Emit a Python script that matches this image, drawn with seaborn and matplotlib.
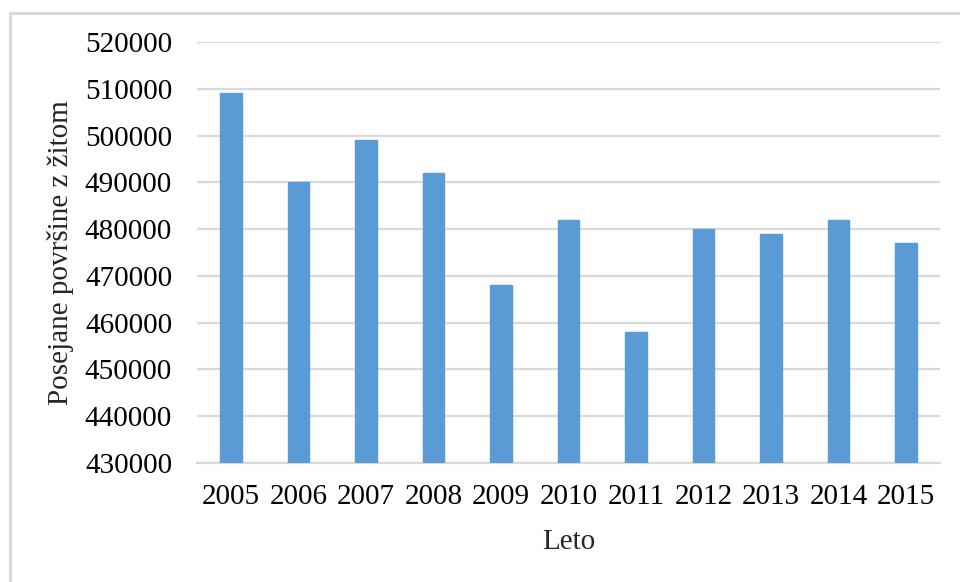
import matplotlib
matplotlib.use("Agg")
import matplotlib.pyplot as plt
from matplotlib.patches import Rectangle
import seaborn as sns
import pandas as pd

years = ["2005", "2006", "2007", "2008", "2009", "2010",
         "2011", "2012", "2013", "2014", "2015"]
area = [509000, 490000, 499000, 492000, 468000, 482000,
        458000, 480000, 479000, 482000, 477000]
y_ticks = [430000, 440000, 450000, 460000, 470000, 480000,
           490000, 500000, 510000, 520000]

sns.set_theme(style="white")
plt.rcParams["font.family"] = ["Liberation Serif", "DejaVu Serif"]

W, H = 960, 582
fig = plt.figure(figsize=(W / 100, H / 100), dpi=100)
fig.patch.set_facecolor("white")

# light frame around the chart
fig.patches.append(Rectangle((9.5 / W, -0.1), 1.2, 1.1 - 12.5 / H,
                             transform=fig.transFigure, fill=False,
                             edgecolor="#D9D9D9", linewidth=2.2, zorder=0))

left, right, top, bottom = 197, 940, 42, 463
ax = fig.add_axes([left / W, (H - bottom) / H, (right - left) / W, (bottom - top) / H])

df = pd.DataFrame({"Leto": years, "Povrsina": area})
sns.barplot(data=df, x="Leto", y="Povrsina", color="#5B9BD5", saturation=1,
            width=0.32, ax=ax, zorder=3, edgecolor="#5B9BD5")

ax.set_ylim(430000, 520000)
ax.set_yticks(y_ticks)
ax.set_yticklabels([str(v) for v in y_ticks])
ax.yaxis.grid(True, color="#D9D9D9", linewidth=1.6, zorder=0)
ax.set_axisbelow(True)
for s in ["top", "right", "left"]:
    ax.spines[s].set_visible(False)
ax.spines["bottom"].set_color("#D9D9D9")
ax.spines["bottom"].set_linewidth(1.6)
ax.spines["bottom"].set_zorder(2)

fs = 21
ax.tick_params(axis="both", length=0, labelsize=fs, colors="black")
ax.tick_params(axis="y", pad=18)
ax.tick_params(axis="x", pad=15)
ax.set_xlabel("Leto", fontsize=fs, labelpad=14)
ax.set_ylabel("Posejane površine z žitom", fontsize=fs, labelpad=8)

fig.savefig("out.png", dpi=100)
